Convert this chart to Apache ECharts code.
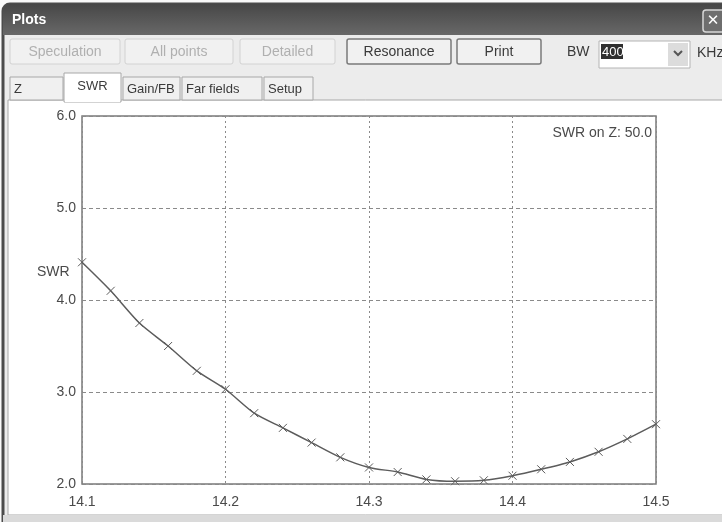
<!DOCTYPE html>
<html>
<head>
<meta charset="utf-8">
<title>Plots - SWR</title>
<script src="https://cdn.jsdelivr.net/npm/echarts@6/dist/echarts.min.js"></script>
<style>
  html, body { margin: 0; padding: 0; background: #fafafa; }
  #main { width: 722px; height: 522px; }
</style>
</head>
<body>
<div id="main"></div>
<script>
// frequency (MHz) and SWR, every 20 kHz
var freqs = [14.10, 14.12, 14.14, 14.16, 14.18, 14.20, 14.22, 14.24, 14.26, 14.28, 14.30,
             14.32, 14.34, 14.36, 14.38, 14.40, 14.42, 14.44, 14.46, 14.48, 14.50];
var swr = [4.41, 4.10, 3.75, 3.50, 3.23, 3.03, 2.77, 2.61, 2.45, 2.29, 2.18,
           2.13, 2.05, 2.03, 2.04, 2.09, 2.16, 2.24, 2.35, 2.49, 2.65];
var xTicks = [14.1, 14.2, 14.3, 14.4, 14.5];
var yTicks = [2.0, 3.0, 4.0, 5.0, 6.0];
var toolButtons = ['Speculation', 'All points', 'Detailed', 'Resonance', 'Print'];
var tabNames = ['Z', 'SWR', 'Gain/FB', 'Far fields', 'Setup'];

var FONT = 'Liberation Sans';
var chart = echarts.init(document.getElementById('main'));

/**
 * window chrome: title bar, buttons, tabs, panel
 */
function chrome() {
  var els = [];
  // window frame
  els.push({ type: 'rect', z: -20, shape: { x: 3, y: 4, width: 730, height: 530, r: [7, 0, 0, 0] },
    style: { fill: '#ececec', stroke: '#4c4c4c', lineWidth: 3 } });
  // title bar
  els.push({ type: 'rect', z: -19, shape: { x: 3, y: 4, width: 730, height: 31, r: [7, 0, 0, 0] },
    style: { fill: new echarts.graphic.LinearGradient(0, 0, 0, 1, [
      { offset: 0, color: '#474747' }, { offset: 1, color: '#686868' }]) } });
  els.push({ type: 'text', z: -18, style: { x: 12, y: 20, text: 'Plots', fill: '#fff',
    font: 'bold 14px ' + FONT, verticalAlign: 'middle' } });
  // close button
  els.push({ type: 'rect', z: -18, shape: { x: 703, y: 10, width: 24, height: 22, r: 3 },
    style: { fill: '#6e6e6e', stroke: '#d8d8d8', lineWidth: 1.5 } });
  els.push({ type: 'text', z: -17, style: { x: 713, y: 21, text: '✕', fill: '#fff',
    font: 'bold 15px "DejaVu Sans"', align: 'center', verticalAlign: 'middle' } });

  // tool buttons
  var bx = [10, 125, 240, 347, 457];
  var bw = [110, 108, 95, 104, 84];
  toolButtons.forEach(function (name, i) {
    var enabled = i >= 3;
    els.push({ type: 'rect', z: -18, shape: { x: bx[i], y: 39, width: bw[i], height: 25, r: 2 },
      style: { fill: '#f1f1f1', stroke: enabled ? '#7a7a7a' : '#d2d2d2', lineWidth: enabled ? 1.5 : 1 } });
    els.push({ type: 'text', z: -17, style: { x: bx[i] + bw[i] / 2, y: 52, text: name,
      fill: enabled ? '#3a3a3a' : '#b0b0b0', font: '14px ' + FONT, align: 'center', verticalAlign: 'middle' } });
  });
  // bandwidth combo
  els.push({ type: 'text', z: -17, style: { x: 567, y: 52, text: 'BW', fill: '#3a3a3a',
    font: '14px ' + FONT, verticalAlign: 'middle' } });
  els.push({ type: 'rect', z: -18, shape: { x: 599, y: 41, width: 91, height: 27 },
    style: { fill: '#fff', stroke: '#b4b4b4', lineWidth: 1 } });
  els.push({ type: 'rect', z: -17, shape: { x: 601, y: 44, width: 22, height: 15 },
    style: { fill: '#303030' } });
  els.push({ type: 'text', z: -16, style: { x: 602, y: 52, text: '400', fill: '#fff',
    font: '13px ' + FONT, verticalAlign: 'middle' } });
  els.push({ type: 'rect', z: -17, shape: { x: 668, y: 43, width: 20, height: 23 },
    style: { fill: '#dcdcdc' } });
  els.push({ type: 'polyline', z: -16, shape: { points: [[674, 51], [678, 55], [682, 51]] },
    style: { stroke: '#555', lineWidth: 2, fill: null } });
  els.push({ type: 'text', z: -17, style: { x: 697, y: 53, text: 'KHz', fill: '#3a3a3a',
    font: '14px ' + FONT, verticalAlign: 'middle' } });

  // white panel under the tabs
  els.push({ type: 'rect', z: -18, shape: { x: 8, y: 100, width: 720, height: 415 },
    style: { fill: '#fff', stroke: '#a8a8a8', lineWidth: 1 } });
  els.push({ type: 'rect', z: -18, shape: { x: 3, y: 515, width: 730, height: 10 },
    style: { fill: '#dadada' } });

  // tabs
  var tx = [10, 64, 123, 182, 264];
  var tw = [53, 57, 57, 80, 49];
  tabNames.forEach(function (name, i) {
    var active = i === 1;
    els.push({ type: 'rect', z: active ? -16 : -17,
      shape: { x: tx[i], y: active ? 73 : 77, width: tw[i], height: active ? 29 : 23 },
      style: { fill: active ? '#fff' : '#f0f0f0', stroke: '#a8a8a8', lineWidth: 1 } });
    els.push({ type: 'text', z: -15, style: { x: active ? tx[i] + tw[i] / 2 : tx[i] + 4,
      y: active ? 86 : 89, text: name, fill: '#3a3a3a', font: '13px ' + FONT,
      align: active ? 'center' : 'left', verticalAlign: 'middle' } });
  });
  // cover the line under the active tab
  els.push({ type: 'rect', z: -15, shape: { x: 65, y: 98, width: 55, height: 4 }, style: { fill: '#fff' } });

  // axis name and impedance note
  els.push({ type: 'text', z: 5, style: { x: 37, y: 272, text: 'SWR', fill: '#4a4a4a',
    font: '14px ' + FONT, verticalAlign: 'middle' } });
  els.push({ type: 'text', z: 5, style: { x: 652, y: 133, text: 'SWR on Z: 50.0', fill: '#4a4a4a',
    font: '14px ' + FONT, align: 'right', verticalAlign: 'middle' } });
  return els;
}

var option = {
  animation: false,
  backgroundColor: '#fafafa',
  graphic: { elements: chrome() },
  grid: {
    left: 82, top: 116, width: 574, height: 368,
    show: true, borderColor: '#7a7a7a', borderWidth: 1.5, backgroundColor: 'transparent'
  },
  xAxis: {
    type: 'value',
    min: xTicks[0], max: xTicks[xTicks.length - 1], interval: 0.1,
    axisLine: { show: false },
    axisTick: { show: false },
    axisLabel: {
      margin: 11, color: '#4a4a4a', fontSize: 14, fontFamily: FONT,
      formatter: function (v) { return v.toFixed(1); }
    },
    splitLine: { show: true, lineStyle: { color: '#8a8a8a', type: [2, 3], width: 1 } }
  },
  yAxis: {
    type: 'value',
    min: yTicks[0], max: yTicks[yTicks.length - 1], interval: 1,
    axisLine: { show: false },
    axisTick: { show: false },
    axisLabel: {
      margin: 6, color: '#4a4a4a', fontSize: 14, fontFamily: FONT,
      formatter: function (v) { return v.toFixed(1); }
    },
    splitLine: { show: true, lineStyle: { color: '#8a8a8a', type: [4, 3], width: 1 } }
  },
  series: [{
    type: 'line',
    data: freqs.map(function (f, i) { return [f, swr[i]]; }),
    smooth: 0.25,
    lineStyle: { color: '#5c5c5c', width: 1.5 },
    symbol: 'path://M0,0L10,10M10,0L0,10',
    symbolSize: 8,
    itemStyle: { color: 'none', borderColor: '#5c5c5c', borderWidth: 1 },
    showSymbol: true
  }]
};

chart.setOption(option);
</script>
</body>
</html>
